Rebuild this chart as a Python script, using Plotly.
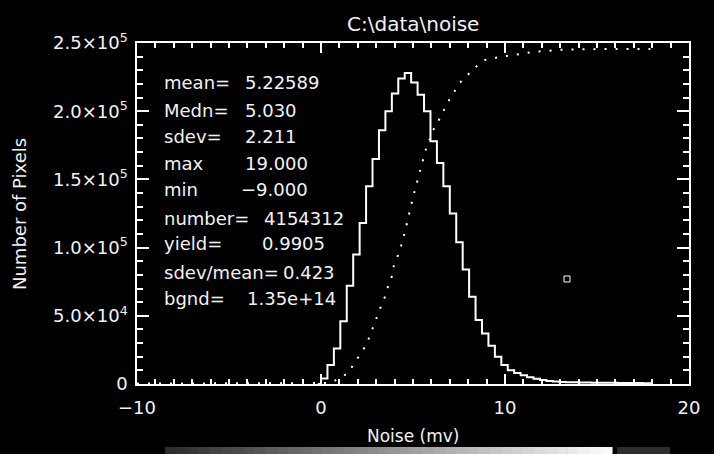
import plotly.graph_objects as go

# ---------------- data ----------------
hist_centers = [-0.175, 0.175, 0.525, 0.875, 1.225, 1.575, 1.925, 2.275, 2.625, 2.975, 3.325,
                3.675, 4.025, 4.375, 4.725, 5.075, 5.425, 5.775, 6.125, 6.475, 6.825,
                7.175, 7.525, 7.875, 8.225, 8.575, 8.925, 9.275, 9.625, 9.975, 10.325,
                10.675, 11.025, 11.375, 11.725, 12.075, 12.425, 12.775, 13.125, 13.475, 13.825,
                14.175, 14.525, 14.875, 15.225, 15.575, 15.925, 16.275, 16.625, 16.975, 17.325,
                17.675, 18.025]
hist_counts = [0, 4000, 14000, 26000, 46000, 72000, 95000, 118000, 145000, 165000, 186000,
               200000, 213000, 224000, 228000, 221000, 212000, 200000, 178000, 162000, 145000,
               125000, 104000, 84000, 64000, 47000, 37000, 28000, 20000, 14000, 10000,
               8000, 6500, 5000, 3800, 3000, 2200, 1800, 1500, 1300, 1200,
               1100, 1050, 1000, 950, 900, 850, 800, 750, 700, 650,
               600, 500]

cum_x = [-10.0, -5.0, 0.0, 0.49, 1.03, 1.47, 1.74, 2.01, 2.28, 2.50, 2.66, 2.83, 3.04, 3.15,
         3.37, 3.59, 3.64, 3.86, 3.91, 4.13, 4.35, 4.57, 4.78, 5.00, 5.22, 5.38,
         5.54, 5.76, 5.92, 6.09, 6.36, 6.58, 6.85, 7.01, 7.28, 7.55, 7.93, 8.21,
         8.53, 8.91, 9.46, 10.0, 10.43, 11.47, 13.0, 15.2, 17.9]
cum_y = [300, 300, 300, 700, 4400, 8000, 13800, 18900, 24700, 29800, 35600, 41400, 48700, 53800,
         61000, 66900, 72000, 79200, 85000, 92300, 101000, 112000, 125000, 137000, 148000, 155500,
         165000, 175000, 179500, 186000, 192000, 199000, 204000, 210000, 215000, 221000, 226000, 230000,
         234000, 237600, 239000, 240500, 241000, 243400, 245000, 245600, 245600]

point_x = [13.37]
point_y = [77000]

stat_labels = ["mean=", "Medn=", "sdev=", "max", "min", "number=", "yield=", "sdev/mean=", "bgnd="]
stat_values = ["5.22589", "5.030", "2.211", "19.000", "\u22129.000", "4154312", "0.9905", "0.423", "1.35e+14"]

y_tickvals = [0, 50000, 100000, 150000, 200000, 250000]
y_ticktext = ["0", "5.0\u00d710<sup>4</sup>", "1.0\u00d710<sup>5</sup>", "1.5\u00d710<sup>5</sup>",
              "2.0\u00d710<sup>5</sup>", "2.5\u00d710<sup>5</sup>"]
x_tickvals = [-10, 0, 10, 20]
x_ticktext = ["\u221210", "0", "10", "20"]

# ---------------- layout helpers (pixel -> paper) ----------------
W, H = 714, 454
L, R, T, B = 137, 689, 43, 384


def px(xp):
    return (xp - L) / (R - L)


def py(yp):
    return (B - yp) / (B - T)


FONT = "DejaVu Sans"
FG = "#f2f2f2"

fig = go.Figure()
fig.add_trace(go.Scatter(x=hist_centers, y=hist_counts, mode="lines",
                         line=dict(color="white", width=2, shape="hvh"),
                         hoverinfo="skip", showlegend=False))
fig.add_trace(go.Scatter(x=cum_x, y=cum_y, mode="lines",
                         line=dict(color="white", width=2, dash="2px,9px"),
                         hoverinfo="skip", showlegend=False))
fig.add_trace(go.Scatter(x=point_x, y=point_y, mode="markers",
                         marker=dict(symbol="square-open", size=6, color="white",
                                     line=dict(width=1, color="white")),
                         hoverinfo="skip", showlegend=False))

axis_common = dict(showline=True, linecolor="white", linewidth=1.5, mirror="allticks",
                   ticks="inside", tickcolor="white", tickwidth=1.5,
                   showgrid=False, zeroline=False,
                   tickfont=dict(family=FONT, size=18, color=FG))

fig.update_xaxes(range=[-10, 20], tickvals=x_tickvals, ticktext=x_ticktext, ticklen=10,
                 minor=dict(dtick=1, ticklen=5, ticks="inside", tickcolor="white", tickwidth=1.5),
                 ticklabelstandoff=7, **axis_common)
fig.update_yaxes(range=[0, 250000], tickvals=y_tickvals, ticktext=y_ticktext, ticklen=12,
                 minor=dict(dtick=10000, ticklen=6, ticks="inside", tickcolor="white", tickwidth=1.5),
                 ticklabelstandoff=4, **axis_common)

annotations = []
# title & axis titles
annotations.append(dict(text="C:\\data\\noise", x=px(413), y=py(24), xref="paper", yref="paper",
                        showarrow=False, font=dict(family=FONT, size=20, color=FG),
                        xanchor="center", yanchor="middle"))
annotations.append(dict(text="Noise (mv)", x=px(413), y=py(436), xref="paper", yref="paper",
                        showarrow=False, font=dict(family=FONT, size=17, color=FG),
                        xanchor="center", yanchor="middle"))
annotations.append(dict(text="Number of Pixels", x=px(19), y=py(214), xref="paper", yref="paper",
                        showarrow=False, textangle=-90, font=dict(family=FONT, size=18, color=FG),
                        xanchor="center", yanchor="middle"))

row_y = [82, 110, 136, 163, 190, 218, 244, 272, 298]
val_x = [243, 243, 243, 243, 239, 262, 260, 281, 245]
for i, (lab, val) in enumerate(zip(stat_labels, stat_values)):
    annotations.append(dict(text=lab, x=px(162), y=py(row_y[i]), xref="paper", yref="paper",
                            showarrow=False, font=dict(family=FONT, size=18, color=FG),
                            xanchor="left", yanchor="middle"))
    annotations.append(dict(text=val, x=px(val_x[i]), y=py(row_y[i]), xref="paper", yref="paper",
                            showarrow=False, font=dict(family=FONT, size=18, color=FG),
                            xanchor="left", yanchor="middle"))

# decorative gradient strip at the bottom of the window
shapes = []
n = 40
x0, x1 = 165, 612
for k in range(n):
    a = x0 + (x1 - x0) * k / n
    b = x0 + (x1 - x0) * (k + 1) / n
    g = int(45 + (250 - 45) * k / (n - 1))
    shapes.append(dict(type="rect", xref="paper", yref="paper", x0=px(a), x1=px(b) + 0.001,
                       y0=py(454), y1=py(447), line=dict(width=0),
                       fillcolor="rgb(%d,%d,%d)" % (g, g, g), layer="above"))
shapes.append(dict(type="rect", xref="paper", yref="paper", x0=px(617), x1=px(670),
                   y0=py(454), y1=py(447), line=dict(width=0), fillcolor="rgb(45,45,45)",
                   layer="above"))

fig.update_layout(width=W, height=H, autosize=False,
                  margin=dict(l=L, r=W - R, t=T, b=H - B, pad=0),
                  paper_bgcolor="black", plot_bgcolor="black",
                  annotations=annotations, shapes=shapes, showlegend=False)

fig.write_html("out.html")
